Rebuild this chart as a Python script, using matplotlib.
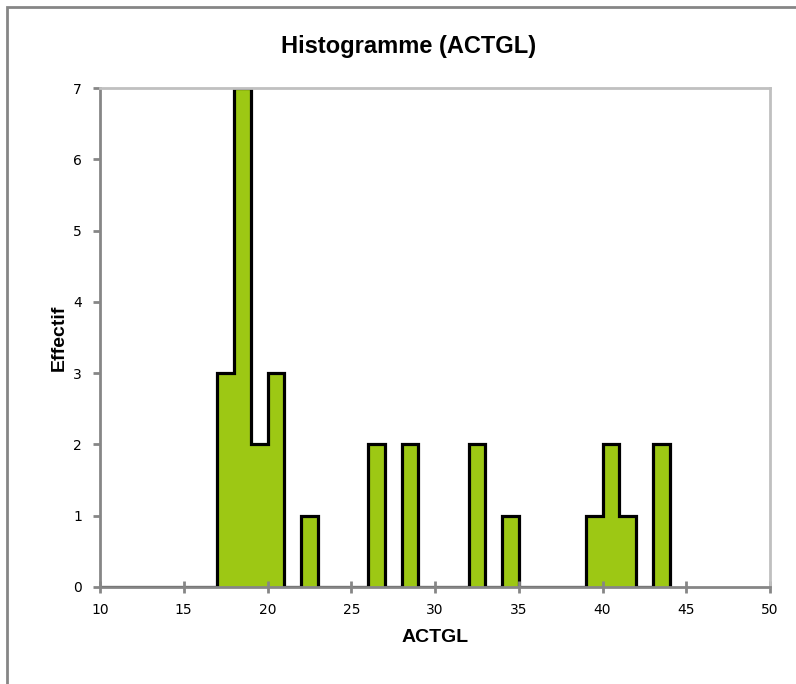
import matplotlib.pyplot as plt
import numpy as np
from matplotlib.patches import Rectangle

# Histogramme de ACTGL (classes de largeur 1)
debut_classes = [17, 18, 19, 20, 22, 26, 28, 32, 34, 39, 40, 41, 43]
effectifs = [3, 7, 2, 3, 1, 2, 2, 2, 1, 1, 2, 1, 2]

bords = np.arange(10, 45)
comptes = np.zeros(len(bords) - 1)
for d, e in zip(debut_classes, effectifs):
    comptes[d - 10] = e

vert = '#9dc814'
gris = '#868686'

fig = plt.figure(figsize=(7.96, 6.84), dpi=100)
ax = fig.add_axes([100 / 796, 1 - 587 / 684, 670 / 796, 499 / 684])

# cadre du graphique (coin haut gauche visible)
fig.patches.append(Rectangle((7 / 796, -0.1), 1.2, 1 - 7 / 684 + 0.1,
                             transform=fig.transFigure, fill=False,
                             edgecolor=gris, linewidth=2))

ax.stairs(comptes, bords, fill=True, color=vert, linewidth=0)
ax.stairs(comptes, bords, fill=False, color='black', linewidth=2.3, baseline=0)

ax.set_xlim(10, 50)
ax.set_ylim(0, 7)
ax.set_xticks(range(10, 51, 5))
ax.set_yticks(range(0, 8))

for s in ['left', 'bottom']:
    ax.spines[s].set_color(gris)
    ax.spines[s].set_linewidth(2)
for s in ['top', 'right']:
    ax.spines[s].set_color('#c0c0c0')
    ax.spines[s].set_linewidth(2)

ax.tick_params(axis='x', direction='inout', length=9, width=2, color=gris,
               labelsize=10, pad=7)
ax.tick_params(axis='y', direction='out', length=5, width=2, color=gris,
               labelsize=10, pad=8)

ax.set_title('Histogramme (ACTGL)', fontsize=17, fontweight='bold',
             family='Liberation Sans', pad=25, x=0.461)
ax.set_xlabel('ACTGL', fontsize=14, fontweight='bold', family='Liberation Sans',
              labelpad=9)
ax.set_ylabel('Effectif', fontsize=14, fontweight='bold', family='Liberation Sans',
              labelpad=4)

fig.savefig('out.png', dpi=100)
